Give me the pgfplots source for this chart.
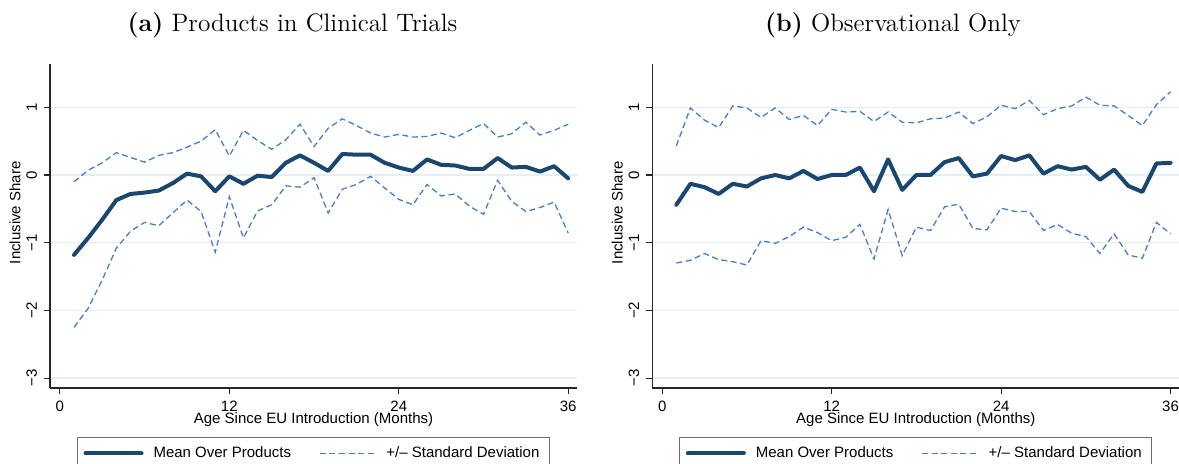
\documentclass[border=0pt]{standalone}
\usepackage{fontspec}
\usepackage{pgfplots}
\usepackage{pgfplotstable}
\pgfplotsset{compat=1.18}
\newfontfamily\axisfont{Liberation Sans}

\definecolor{meanblue}{RGB}{26,71,111}
\definecolor{sdblue}{RGB}{74,126,196}
\definecolor{gridc}{RGB}{230,239,240}
\definecolor{legframe}{RGB}{110,110,110}

% Products in clinical trials: month, mean, mean+sd, mean-sd
\pgfplotstableread{
m mean up lo
1 -1.18 -0.10 -2.25
2 -0.93 0.07 -1.97
3 -0.66 0.18 -1.55
4 -0.37 0.33 -1.08
5 -0.28 0.26 -0.83
6 -0.26 0.19 -0.70
7 -0.23 0.29 -0.75
8 -0.12 0.33 -0.56
9 0.02 0.41 -0.37
10 -0.02 0.50 -0.54
11 -0.24 0.67 -1.14
12 -0.02 0.28 -0.32
13 -0.13 0.66 -0.93
14 -0.01 0.51 -0.53
15 -0.03 0.38 -0.44
16 0.18 0.52 -0.16
17 0.29 0.75 -0.18
18 0.18 0.42 -0.04
19 0.06 0.69 -0.56
20 0.31 0.83 -0.21
21 0.30 0.73 -0.14
22 0.30 0.62 -0.02
23 0.18 0.56 -0.19
24 0.11 0.60 -0.36
25 0.06 0.56 -0.44
26 0.23 0.57 -0.14
27 0.15 0.62 -0.31
28 0.14 0.55 -0.28
29 0.09 0.66 -0.46
30 0.09 0.76 -0.58
31 0.25 0.56 -0.08
32 0.11 0.61 -0.39
33 0.12 0.78 -0.54
34 0.05 0.59 -0.48
35 0.13 0.66 -0.40
36 -0.05 0.75 -0.86
}\clinical

% Observational products only
\pgfplotstableread{
m mean up lo
1 -0.44 0.43 -1.30
2 -0.13 0.99 -1.26
3 -0.18 0.81 -1.16
4 -0.28 0.70 -1.25
5 -0.13 1.02 -1.28
6 -0.17 0.99 -1.33
7 -0.05 0.85 -0.97
8 0.00 0.99 -1.01
9 -0.05 0.82 -0.91
10 0.06 0.88 -0.77
11 -0.06 0.73 -0.85
12 0.00 0.97 -0.97
13 0.00 0.93 -0.92
14 0.11 0.94 -0.73
15 -0.24 0.79 -1.24
16 0.23 0.93 -0.51
17 -0.22 0.78 -1.19
18 0.00 0.77 -0.77
19 0.00 0.83 -0.82
20 0.19 0.84 -0.47
21 0.25 0.93 -0.43
22 -0.02 0.76 -0.79
23 0.02 0.86 -0.81
24 0.28 1.03 -0.49
25 0.22 0.98 -0.54
26 0.29 1.10 -0.54
27 0.02 0.89 -0.82
28 0.13 0.98 -0.73
29 0.08 1.02 -0.86
30 0.12 1.15 -0.91
31 -0.07 1.03 -1.16
32 0.08 1.02 -0.87
33 -0.16 0.88 -1.18
34 -0.25 0.73 -1.23
35 0.17 1.04 -0.70
36 0.18 1.23 -0.87
}\observational

\pgfplotsset{
  panel/.style={
    anchor=south west,
    scale only axis,
    width=263.5pt, height=162.15pt,
    xmin=-0.70, xmax=36.62,
    ymin=-3.146, ymax=1.644,
    axis x line*=bottom, axis y line*=left,
    axis line style={-, line width=0.6pt, black!85},
    xtick={0,12,24,36},
    ytick={-3,-2,-1,0,1},
    yticklabels={−3,−2,−1,0,1},
    tick align=outside,
    major tick length=3pt,
    tick style={line width=0.6pt, black!85},
    ymajorgrids,
    grid style={gridc, line width=0.7pt},
    ticklabel style={font=\axisfont\fontsize{7.5}{9}\selectfont},
    /pgf/number format/assume math mode=true,
    yticklabel style={rotate=90, anchor=south},
    label style={font=\axisfont\fontsize{7.5}{9}\selectfont},
    xlabel={Age Since EU Introduction (Months)},
    xlabel style={at={(axis description cs:0.5,0)}, anchor=center, yshift=-16pt},
    ylabel={Inclusive Share},
    ylabel style={at={(axis description cs:-0.0664,0.54)}, anchor=center, rotate=0},
    legend columns=2,
    legend style={
      at={(0.5,-0.1512)}, anchor=north,
      draw=legframe, line width=0.5pt,
      font=\axisfont\fontsize{7.5}{9}\selectfont,
      inner xsep=3pt, inner ysep=2.5pt,
      /tikz/every even column/.append style={column sep=12pt},
      /tikz/every odd column/.append style={column sep=3pt},
      cells={anchor=west},
    },
    legend image code/.code={\draw[##1] (0pt,0pt) -- (28pt,0pt);},
  },
  meanline/.style={meanblue, line width=2pt, line join=round, line cap=round},
  sdline/.style={sdblue, line width=0.65pt, dash pattern=on 3pt off 1.8pt},
}

\begin{document}
\begin{tikzpicture}
\begin{axis}[panel, at={(25pt,38pt)}]
  \addplot[meanline] table[x=m, y=mean] {\clinical};
  \addlegendentry{Mean Over Products}
  \addplot[sdline] table[x=m, y=up] {\clinical};
  \addlegendentry{+/\textendash{} Standard Deviation}
  \addplot[sdline, forget plot] table[x=m, y=lo] {\clinical};
\end{axis}

\begin{axis}[panel, at={(326.15pt,38pt)}]
  \addplot[meanline] table[x=m, y=mean] {\observational};
  \addlegendentry{Mean Over Products}
  \addplot[sdline] table[x=m, y=up] {\observational};
  \addlegendentry{+/\textendash{} Standard Deviation}
  \addplot[sdline, forget plot] table[x=m, y=lo] {\observational};
\end{axis}

\node[anchor=base, font=\fontsize{12.6}{14}\selectfont] at (146.25pt,216.2pt)
  {\textbf{(a)} Products in Clinical Trials};
\node[anchor=base, font=\fontsize{12.6}{14}\selectfont] at (446.5pt,216.2pt)
  {\textbf{(b)} Observational Only};

\pgfresetboundingbox
\path (0,0) rectangle (589.5pt,232pt);
\end{tikzpicture}
\end{document}
